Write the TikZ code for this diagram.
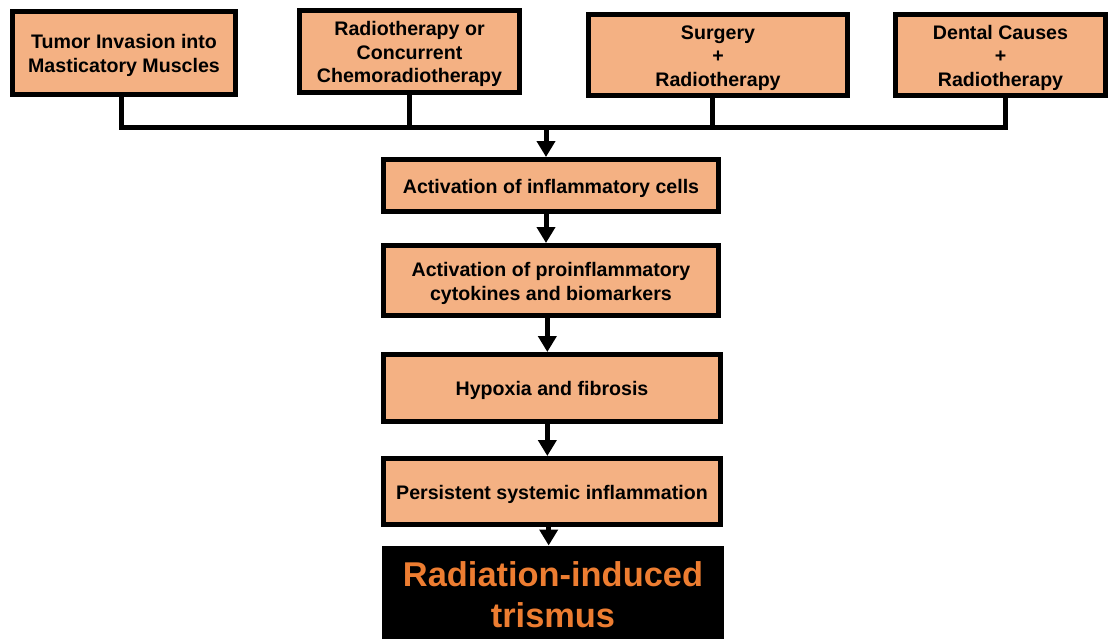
\documentclass[tikz,border=0pt]{standalone}
\usepackage{fontspec}
\setmainfont{Liberation Sans}
\usetikzlibrary{arrows.meta}
\definecolor{peach}{RGB}{244,177,131}
\definecolor{trisorange}{RGB}{237,125,49}
\newcommand{\boxlines}[2][-2.25pt]{\raisebox{#1}[\height][\depth]{\begin{tabular}{@{}c@{}}#2\end{tabular}}}
\tikzset{every picture/.style={line width=0.75pt}}

\begin{document}
\begin{tikzpicture}[x=0.75pt,y=0.75pt,yscale=-1,xscale=1,
  cause/.style={draw,line width=3.75pt,fill=peach,inner sep=0pt,font=\fontsize{14.7}{17.8}\selectfont\bfseries},
  link/.style={line width=3.75pt},
  flowarrow/.style={line width=3.75pt,-{Triangle[width=13.5pt,length=12pt]}}]
\useasboundingbox (0,0) rectangle (1111,639);

%Shape: Rectangle [causes]
\node (tumor) at (124,53) [cause,minimum width=167.25pt,minimum height=62.25pt] {\boxlines{Tumor Invasion into\\Masticatory Muscles}};
%Shape: Rectangle
\node (radio) at (409.5,51.5) [cause,minimum width=165pt,minimum height=61.5pt] {\boxlines{Radiotherapy or\\Concurrent\\Chemoradiotherapy}};
%Shape: Rectangle
\node (surg) at (718,55) [cause,minimum width=194.25pt,minimum height=60.75pt] {\boxlines{Surgery\\+\\Radiotherapy}};
%Shape: Rectangle
\node (dental) at (1000.5,55) [cause,minimum width=157.5pt,minimum height=60.75pt] {\boxlines{Dental Causes\\+\\Radiotherapy}};

%Shape: Rectangle [pathway]
\node (inflam) at (551,185.5) [cause,minimum width=251.25pt,minimum height=39pt] {\boxlines{Activation of inflammatory cells}};
%Shape: Rectangle
\node (cytok) at (551,280.5) [cause,minimum width=251.25pt,minimum height=52.5pt] {\boxlines{Activation of proinflammatory\\cytokines and biomarkers}};
%Shape: Rectangle
\node (hypox) at (552,388) [cause,minimum width=252.75pt,minimum height=50.25pt] {\boxlines{Hypoxia and fibrosis}};
%Shape: Rectangle
\node (persist) at (552,491.5) [cause,minimum width=252.75pt,minimum height=49.5pt] {\boxlines{Persistent systemic inflammation}};
%Shape: Rectangle [outcome]
\node (trismus) at (553,592.5) [fill=black,text=trisorange,inner sep=0pt,minimum width=256.5pt,minimum height=69.75pt,font=\fontsize{25.8}{30.75}\selectfont\bfseries] {\boxlines[-4.5pt]{Radiation-induced\\trismus}};

\coordinate (merge) at (546,127);

%Straight Lines
\draw [link] ([xshift=-2pt]tumor.south) |- (merge) -| ([xshift=4pt]dental.south);
\draw [link] (radio.south) -- (radio.south |- merge);
\draw [link] ([xshift=-4pt]surg.south) -- ([xshift=-4pt]surg.south |- merge);

%Arrows
\draw [flowarrow] (merge) -- (merge |- inflam.north);
\draw [flowarrow] (merge |- inflam.south) -- (merge |- cytok.north);
\draw [flowarrow] ([xshift=1pt]merge |- cytok.south) -- ([xshift=1pt]merge |- hypox.north);
\draw [flowarrow] ([xshift=1pt]merge |- hypox.south) -- ([xshift=1pt]merge |- persist.north);
\draw [flowarrow] ([xshift=2pt]merge |- persist.south) -- ([xshift=2pt]merge |- trismus.north);

\end{tikzpicture}
\end{document}
